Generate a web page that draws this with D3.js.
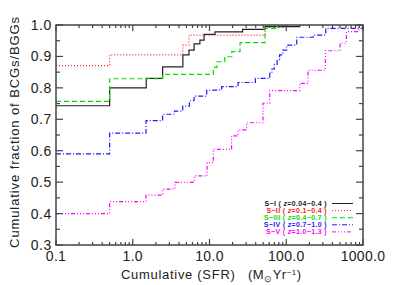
<!DOCTYPE html>
<html>
<meta charset="utf-8">
<script src="https://d3js.org/d3.v7.min.js"></script>
<style>
  body { margin: 0; background: #fff; }
  text { font-family: "Liberation Sans", Arial, sans-serif; }
</style>
<body>
<div id="my_dataviz"></div>
<script>

// cumulative SFR (x) and cumulative fraction (y) for each sample
var sfr1  = [0.1, 0.5, 1.5, 2.45, 4.5, 5.4, 6.3, 7.5, 8.5, 11.8, 27, 53, 150];
var frac1 = [0.743, 0.80, 0.83, 0.867, 0.905, 0.92, 0.94, 0.952, 0.97, 0.978, 0.986, 0.995, 1.0];

var sfr2  = [0.1, 0.5, 4.5, 5.4, 53];
var frac2 = [0.871, 0.905, 0.936, 0.968, 1.0];

var sfr3  = [0.1, 0.5, 2.45, 11.2, 12.5, 15.8, 19.5, 25, 53, 77];
var frac3 = [0.757, 0.829, 0.843, 0.865, 0.883, 0.899, 0.915, 0.944, 0.989, 1.0];

var sfr4  = [0.1, 0.5, 1.49, 2.45, 3.5, 4.48, 5.46, 6.3, 9.2, 14.4, 23.6, 39.6, 61, 65, 70, 76, 82, 90, 101, 137, 225, 327, 1000];
var frac4 = [0.59, 0.656, 0.696, 0.716, 0.726, 0.742, 0.759, 0.774, 0.793, 0.804, 0.817, 0.830, 0.846, 0.86, 0.875, 0.89, 0.905, 0.92, 0.936, 0.961, 0.968, 0.989, 1.0];

var sfr5  = [0.1, 0.5, 1.49, 2.45, 3.55, 6.3, 9.3, 11.2, 19.4, 23.6, 30.4, 49.8, 61, 150, 192, 323, 502, 608, 883];
var frac5 = [0.40, 0.438, 0.459, 0.478, 0.499, 0.52, 0.562, 0.604, 0.647, 0.666, 0.689, 0.751, 0.791, 0.814, 0.856, 0.918, 0.942, 0.979, 1.0];

var seriesNames = ["S\u2212I", "S\u2212II", "S\u2212III", "S\u2212IV", "S\u2212V"];
var zRanges = ["0.04\u22120.4", "0.1\u22120.4", "0.4\u22120.7", "0.7\u22121.0", "1.0\u22121.3"];

var xTicks = [0.1, 1, 10, 100, 1000];
var yTicks = [0.3, 0.4, 0.5, 0.6, 0.7, 0.8, 0.9, 1.0];

var colors = ["#222222", "#ff2020", "#00e000", "#1a1aff", "#ff00ff"];
var dashes = ["none", "1,2", "5,3", "5,2,1,2", "4,2,1,2,1,2,1,2"];

var W = 399, H = 285;
var margin = {top: 25, right: 36, bottom: 40, left: 56};
var x0 = margin.left, x1 = W - margin.right, y0 = H - margin.bottom, y1 = margin.top;

var svg = d3.select("#my_dataviz").append("svg")
    .attr("width", W).attr("height", H);

var x = d3.scaleLog().domain([0.1, 1000]).range([x0, x1]);
var y = d3.scaleLinear().domain([0.3, 1.0]).range([y0, y1]);

// curves
var sets = [[sfr1, frac1], [sfr2, frac2], [sfr3, frac3], [sfr4, frac4], [sfr5, frac5]];
var line = d3.line()
    .x(function(d) { return x(d[0]); })
    .y(function(d) { return y(d[1]); })
    .curve(d3.curveStepAfter);

sets.forEach(function(s, i) {
  var pts = s[0].map(function(v, j) { return [v, s[1][j]]; });
  svg.append("path")
    .attr("d", line(pts))
    .attr("fill", "none")
    .attr("stroke", colors[i])
    .attr("stroke-width", 1.2)
    .attr("stroke-dasharray", dashes[i]);
});

// frame with inward ticks
var axisCol = "#444";
svg.append("rect")
  .attr("x", x0).attr("y", y1).attr("width", x1 - x0).attr("height", y0 - y1)
  .attr("fill", "none").attr("stroke", axisCol).attr("stroke-width", 1.5);

var minorX = [];
[0.1, 1, 10, 100].forEach(function(d) {
  for (var k = 2; k <= 9; k++) minorX.push(d * k);
});
function xtick(v, len) {
  svg.append("line").attr("x1", x(v)).attr("x2", x(v)).attr("y1", y0).attr("y2", y0 - len)
    .attr("stroke", axisCol).attr("stroke-width", 1.2);
  svg.append("line").attr("x1", x(v)).attr("x2", x(v)).attr("y1", y1).attr("y2", y1 + len)
    .attr("stroke", axisCol).attr("stroke-width", 1.2);
}
xTicks.forEach(function(v) { xtick(v, 6); });
minorX.forEach(function(v) { xtick(v, 3); });

function ytick(v, len) {
  svg.append("line").attr("x1", x0).attr("x2", x0 + len).attr("y1", y(v)).attr("y2", y(v))
    .attr("stroke", axisCol).attr("stroke-width", 1.2);
  svg.append("line").attr("x1", x1).attr("x2", x1 - len).attr("y1", y(v)).attr("y2", y(v))
    .attr("stroke", axisCol).attr("stroke-width", 1.2);
}
yTicks.forEach(function(v) { ytick(v, 7); });
d3.range(0.35, 1.0, 0.1).forEach(function(v) { ytick(v, 4); });

// tick labels
svg.selectAll("text.ylab").data(yTicks).enter().append("text")
  .attr("class", "ylab")
  .attr("x", x0 - 4).attr("y", function(d) { return y(d) + 5; })
  .attr("text-anchor", "end").style("font-size", "14px").style("letter-spacing", "0.6px")
  .attr("fill", "#222")
  .text(function(d) { return d.toFixed(1); });

svg.selectAll("text.xlab").data(xTicks).enter().append("text")
  .attr("class", "xlab")
  .attr("x", function(d) { return x(d); }).attr("y", y0 + 16)
  .attr("text-anchor", "middle").style("font-size", "14px").style("letter-spacing", "0.3px")
  .attr("fill", "#222")
  .text(function(d) { return d.toFixed(1); });

// axis titles
svg.append("text")
  .attr("transform", "translate(19," + ((y0 + y1) / 2 - 3) + ") rotate(-90)")
  .attr("text-anchor", "middle").style("font-size", "13px").style("letter-spacing", "0.9px")
  .attr("fill", "#222")
  .text("Cumulative fraction of BCGs/BGGs");

svg.append("text")
  .attr("x", 121).attr("y", 279).style("font-size", "13px").style("letter-spacing", "0.7px")
  .attr("fill", "#222").text("Cumulative (SFR)");

var xt = svg.append("text")
  .attr("x", 248).attr("y", 279).style("font-size", "13px").style("letter-spacing", "0.5px")
  .attr("fill", "#222");
xt.append("tspan").text("(M");
xt.append("tspan").attr("dy", 3).style("font-size", "9px").text("\u2299");
xt.append("tspan").attr("dy", -3).text("Yr");
xt.append("tspan").attr("dy", -4).style("font-size", "8px").text("\u22121");
xt.append("tspan").attr("dy", 4).text(")");

// legend
var legY = 203.5, legStep = 7.1;
seriesNames.forEach(function(n, i) {
  var t = svg.append("text")
    .attr("x", 327).attr("y", legY + i * legStep + 2.5)
    .attr("text-anchor", "end").style("font-size", "7px").style("font-weight", "bold")
    .style("letter-spacing", "0.35px")
    .attr("fill", colors[i]);
  t.append("tspan").text(n + " ( ");
  t.append("tspan").style("font-style", "italic").text("z");
  t.append("tspan").text("=" + zRanges[i] + " )");
  svg.append("line")
    .attr("x1", 332).attr("x2", 353)
    .attr("y1", legY + i * legStep).attr("y2", legY + i * legStep)
    .attr("stroke", colors[i]).attr("stroke-width", 1)
    .attr("stroke-dasharray", dashes[i]);
});

</script>
</body>
</html>
